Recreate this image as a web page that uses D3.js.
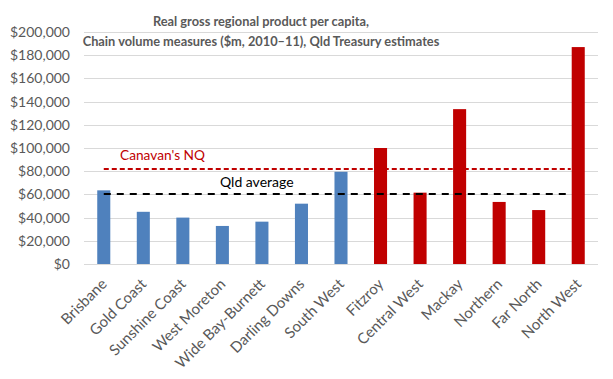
<!DOCTYPE html>
<html><head><meta charset="utf-8">
<script src="https://cdn.jsdelivr.net/npm/d3@7"></script>
<style>body{margin:0;background:#fff}svg{display:block}text{font-family:Lato,"Open Sans",sans-serif}</style>
</head><body><div id="c"></div>
<script>
const categories = ["Brisbane","Gold Coast","Sunshine Coast","West Moreton","Wide Bay-Burnett","Darling Downs","South West","Fitzroy","Central West","Mackay","Northern","Far North","North West"];
const values = [63500,45000,40000,32800,36500,52000,79500,100000,61500,133500,53500,46500,187000];
const regionGroup = ["SEQ","SEQ","SEQ","SEQ","SEQ","SEQ","SEQ","NQ","NQ","NQ","NQ","NQ","NQ"];
const yTicks = [0,20000,40000,60000,80000,100000,120000,140000,160000,180000,200000];
const qldAverage = 60300;
const canavanNQ = 81800;
const titleLines = ["Real gross regional product per capita,","Chain volume measures ($m, 2010\u201311), Qld Treasury estimates"];

const W=613,H=379;
const svg=d3.select("#c").append("svg").attr("width",W).attr("height",H);
const x=d3.scaleBand().domain(categories).range([84,598]).paddingInner(0.67).paddingOuter(0.335);
const y=d3.scaleLinear().domain([0,200000]).range([264,32]);
const fmt=v=>"$"+d3.format(",")(v);

// gridlines
svg.append("g").selectAll("line").data(yTicks).join("line")
 .attr("x1",84).attr("x2",598).attr("y1",d=>Math.round(y(d))+0.5).attr("y2",d=>Math.round(y(d))+0.5)
 .attr("stroke","#d9d9d9").attr("stroke-width",1);

// y axis labels
const ya=svg.append("g").attr("transform","translate(70,0)")
 .call(d3.axisLeft(y).tickValues(yTicks).tickFormat(fmt).tickSize(0).tickPadding(0));
ya.select(".domain").remove();
ya.selectAll("text").attr("font-size",14).attr("fill","#595959").attr("font-family","Lato,sans-serif");

// bars
svg.append("g").selectAll("rect").data(categories).join("rect")
 .attr("x",d=>x(d)).attr("width",x.bandwidth())
 .attr("y",(d,i)=>y(values[i])).attr("height",(d,i)=>y(0)-y(values[i]))
 .attr("fill",(d,i)=>regionGroup[i]==="SEQ"?"#4f81bd":"#c00000");

// x axis labels
const xa=svg.append("g").attr("transform","translate(0,264)")
 .call(d3.axisBottom(x).tickSize(0).tickPadding(0));
xa.select(".domain").remove();
xa.selectAll("text").attr("font-size",15).attr("fill","#595959").attr("font-family","Lato,sans-serif")
 .attr("text-anchor","end").attr("dy",0).attr("y",0)
 .attr("transform","translate(4,21) rotate(-45)");

// reference lines
const lx1=x(categories[0])+x.bandwidth()/2;
const lx2=x(categories[categories.length-1])-1;
svg.append("line").attr("x1",lx1).attr("x2",lx2).attr("y1",y(canavanNQ)).attr("y2",y(canavanNQ))
 .attr("stroke","#c00000").attr("stroke-width",2).attr("stroke-dasharray","5,3");
svg.append("line").attr("x1",lx1).attr("x2",lx2).attr("y1",y(qldAverage)).attr("y2",y(qldAverage))
 .attr("stroke","#000").attr("stroke-width",2).attr("stroke-dasharray","7,6");

svg.append("text").attr("x",120).attr("y",160).attr("font-size",13.7).attr("fill","#c00000").text("Canavan's NQ");
svg.append("text").attr("x",220).attr("y",187).attr("font-size",14).attr("fill","#000").text("Qld average");

// title
svg.append("g").selectAll("text").data(titleLines).join("text")
 .attr("x",261).attr("y",(d,i)=>26+i*20).attr("text-anchor","middle")
 .attr("font-size",12.8).attr("font-weight","bold").attr("fill","#595959").text(d=>d);
</script></body></html>
